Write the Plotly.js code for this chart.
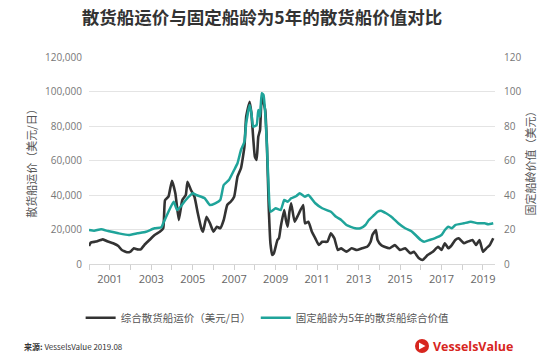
<!DOCTYPE html>
<html><head><meta charset="utf-8">
<script src="https://cdn.plot.ly/plotly-3.0.1.min.js"></script>
<style>html,body{margin:0;padding:0;background:#fff}#c{width:558px;height:359px}</style>
</head><body><div id="c"></div>
<script>
// 综合散货船运价（美元/日）
const rateDates = ["2000-01","2000-02","2000-05","2000-09","2000-12","2001-03","2001-06","2001-08","2001-11","2002-01","2002-03","2002-05","2002-07","2002-09","2002-12","2003-03","2003-06","2003-08","2003-09","2003-11","2004-01","2004-03","2004-05","2004-07","2004-09","2004-10","2004-12","2005-02","2005-04","2005-06","2005-07","2005-09","2005-11","2006-01","2006-03","2006-05","2006-07","2006-09","2006-11","2007-01","2007-03","2007-05","2007-07","2007-08","2007-10","2007-11","2008-01","2008-02","2008-03","2008-04","2008-05","2008-07","2008-08","2008-09","2008-10","2008-11","2008-12","2009-02","2009-03","2009-04","2009-06","2009-07","2009-08","2009-09","2009-10","2009-12","2010-02","2010-05","2010-06","2010-08","2010-10","2010-12","2011-02","2011-04","2011-07","2011-09","2011-11","2012-01","2012-03","2012-06","2012-09","2012-12","2013-03","2013-06","2013-08","2013-09","2013-11","2013-12","2014-02","2014-04","2014-07","2014-10","2015-01","2015-04","2015-07","2015-09","2015-12","2016-02","2016-05","2016-08","2016-11","2017-01","2017-03","2017-05","2017-07","2017-09","2017-11","2018-02","2018-04","2018-07","2018-09","2018-11","2019-01","2019-03","2019-05","2019-07"];
const rateValues = [10500,12400,13000,14300,13000,12000,10400,8100,6800,7200,9100,8500,8500,11000,13900,16800,18700,20700,37000,39000,48300,41000,25500,37000,40000,47700,42900,39000,29400,20700,18700,27400,23600,18700,21600,20700,25500,34200,36100,39000,50600,55500,68000,85400,94100,87400,62200,60300,73800,77700,97000,89300,68000,33200,12000,5200,6200,13900,15000,21600,31300,25500,21600,30300,35200,24500,28400,34200,23600,24500,18700,14900,11000,12900,12900,17800,14900,8100,9100,7100,9100,8100,9100,10000,12900,16800,19700,13900,11000,10000,9100,11000,8100,9100,6200,7100,3300,2300,5200,7100,10000,8100,12000,9100,11000,13900,14900,12000,12900,13900,11000,13900,7100,9100,11000,14900];

// 固定船龄为5年的散货船综合价值（百万美元）
const valueDates = ["2000-01","2000-04","2000-08","2000-12","2001-06","2001-12","2002-05","2002-10","2003-03","2003-07","2003-08","2003-11","2004-02","2004-04","2004-06","2004-09","2005-01","2005-03","2005-06","2005-08","2005-11","2006-02","2006-05","2006-07","2006-10","2007-01","2007-03","2007-05","2007-07","2007-08","2007-10","2007-11","2007-12","2008-02","2008-03","2008-04","2008-05","2008-06","2008-07","2008-08","2008-09","2008-10","2009-01","2009-04","2009-06","2009-08","2009-10","2010-01","2010-03","2010-06","2010-08","2010-12","2011-04","2011-09","2011-12","2012-03","2012-06","2012-11","2013-02","2013-05","2013-07","2013-10","2013-12","2014-02","2014-05","2014-08","2014-12","2015-04","2015-07","2015-08","2015-10","2016-01","2016-03","2016-06","2016-09","2017-01","2017-03","2017-05","2017-07","2017-09","2018-02","2018-06","2018-10","2019-02","2019-04","2019-07"];
const valueValues = [19.7,19.3,20.1,19.1,17.8,16.8,17.8,18.7,20.7,21.3,23.6,30.3,36.1,31.3,33.2,37.1,41.0,40.0,39.0,38.1,34.2,35.2,37.1,45.8,48.7,54.5,58.4,66.1,70.9,81.6,92.2,87.4,79.6,80.6,89.3,85.4,99.0,98.0,87.4,68.0,42.9,30.3,32.3,31.3,37.1,36.1,38.1,39.4,41.0,39.0,40.0,35.2,32.3,30.3,27.4,25.5,22.6,20.7,20.7,22.6,25.5,28.4,30.3,30.9,29.4,27.4,23.6,20.7,19.3,18.7,16.8,13.9,12.9,13.9,14.9,16.8,19.7,21.6,20.7,22.6,23.6,24.5,23.6,23.6,23.0,23.6];

const years = [];
for (let y = 2000; y <= 2019; y++) years.push(y);
const leftTicks = [0,20000,40000,60000,80000,100000,120000];
const leftTickText = ["0","20,000","40,000","60,000","80,000","100,000","120,000"];
const rightTicks = [0,20,40,60,80,100,120];

const seriesNames = ["综合散货船运价（美元/日）","固定船龄为5年的散货船综合价值"];

const CJK = '"Noto Sans CJK SC", "Open Sans", sans-serif';
const LAT = '"Open Sans", "Noto Sans CJK SC", sans-serif';

const traces = [
  {x: rateDates, y: rateValues, type: 'scatter', mode: 'lines', name: seriesNames[0],
   line: {color: '#333333', width: 2.6, shape: 'spline', smoothing: 0.4}, yaxis: 'y'},
  {x: valueDates, y: valueValues, type: 'scatter', mode: 'lines', name: seriesNames[1],
   line: {color: '#1fa49a', width: 2.5, shape: 'spline', smoothing: 0.4}, yaxis: 'y2'}
];

const layout = {
  width: 558, height: 359,
  margin: {l: 89, r: 63, t: 57, b: 95},
  paper_bgcolor: '#ffffff', plot_bgcolor: '#ffffff',
  font: {family: LAT, color: '#666', size: 10},
  title: {text: '<b>散货船运价与固定船龄为5年的散货船价值对比</b>', font: {family: CJK, size: 17.5, color: '#333'},
          x: 262/558, xanchor: 'center', y: 1 - 18/359, yanchor: 'middle', yref: 'container'},
  showlegend: true,
  legend: {orientation: 'h', x: 0.44, xanchor: 'center', y: -0.26, yanchor: 'middle',
           font: {family: CJK, size: 10.5, color: '#555'}, itemwidth: 30, traceorder: 'normal'},
  xaxis: {type: 'date', range: ['2000-01-01', '2019-08-01'],
          tickmode: 'array', tickvals: years.map(y => y + '-01-01'),
          ticktext: years.map(y => (y % 2 === 1 ? String(y) : '')),
          ticks: 'outside', ticklen: 5, tickcolor: '#d0d0d0', showgrid: false,
          showline: true, linecolor: '#d8d8d8', linewidth: 1, zeroline: false,
          tickfont: {family: LAT, size: 11, color: '#666'}, fixedrange: true},
  yaxis: {range: [0, 120000], tickmode: 'array', tickvals: leftTicks, ticktext: leftTickText,
          showgrid: true, gridcolor: '#e4e4e4', gridwidth: 1, zeroline: false, showline: false,
          ticks: '', ticklabelstandoff: 6, tickfont: {family: LAT, size: 10, color: '#777'},
          title: {text: '散货船运价（美元/日）', font: {family: CJK, size: 11, color: '#555'}, standoff: 6}},
  yaxis2: {range: [0, 120], overlaying: 'y', side: 'right', tickmode: 'array', tickvals: rightTicks,
           showgrid: false, zeroline: false, showline: false, ticks: '', ticklabelstandoff: 8,
           tickfont: {family: LAT, size: 10, color: '#777'},
           title: {text: '固定船龄价值（美元）', font: {family: CJK, size: 11, color: '#555'}, standoff: 6}},
  annotations: [
    {text: '<b>来源:</b> VesselsValue 2019.08', xref: 'paper', yref: 'paper', x: (22-89)/406, y: (264-346)/207,
     xanchor: 'left', yanchor: 'middle', showarrow: false, font: {family: CJK, size: 8, color: '#333'}},
    {text: '<b>VesselsValue</b>', xref: 'paper', yref: 'paper', x: (431-89)/406, y: (264-346)/207,
     xanchor: 'left', yanchor: 'middle', showarrow: false, font: {family: LAT, size: 12.5, color: '#d7261e'}}
  ],
  shapes: [
    {type: 'circle', xref: 'paper', yref: 'paper', x0: (415-89)/406, x1: (429-89)/406,
     y0: (264-353)/207, y1: (264-339)/207, fillcolor: '#d7261e', line: {width: 0}},
    {type: 'path', xref: 'paper', yref: 'paper',
     path: 'M ' + ((419-89)/406) + ' ' + ((264-342.5)/207) + ' L ' + ((425.5-89)/406) + ' ' + ((264-346)/207) +
           ' L ' + ((419-89)/406) + ' ' + ((264-349.5)/207) + ' Z',
     fillcolor: '#ffffff', line: {width: 0}}
  ]
};

Plotly.newPlot('c', traces, layout, {displayModeBar: false, staticPlot: true});
</script></body></html>
